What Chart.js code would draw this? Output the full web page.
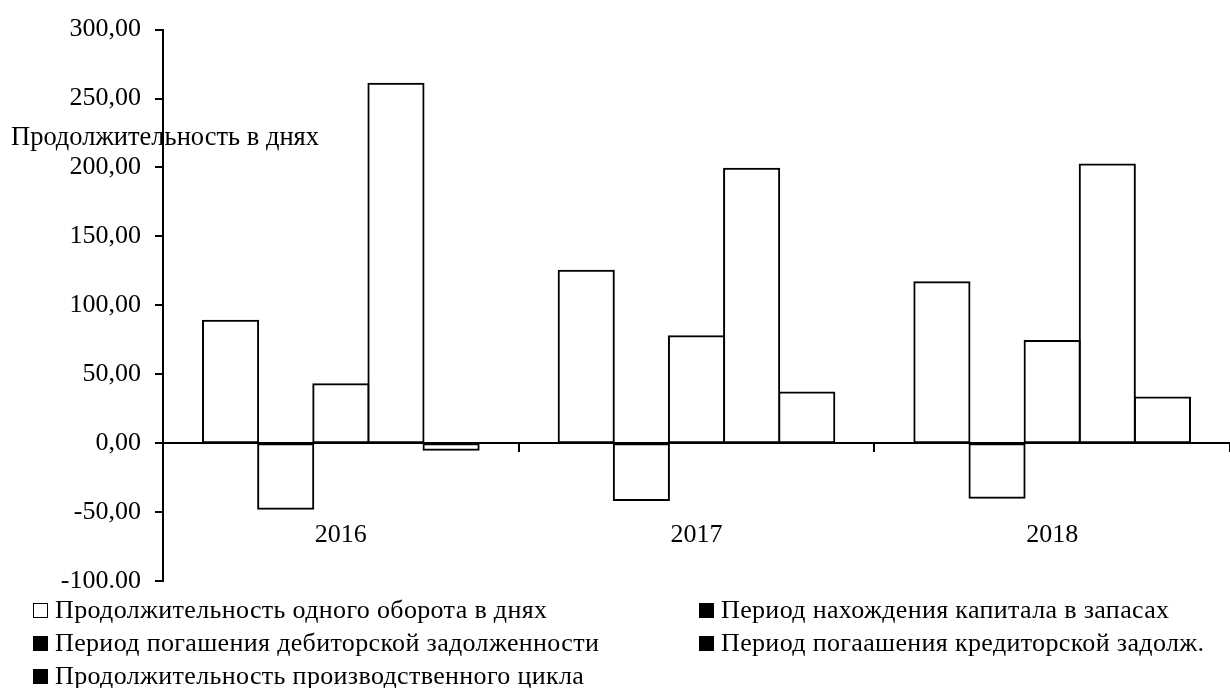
<!DOCTYPE html>
<html>
<head>
<meta charset="utf-8">
<script src="https://cdn.jsdelivr.net/npm/chart.js@4"></script>
<style>
  html, body { margin: 0; padding: 0; background: #fff; }
  #wrap { position: relative; width: 1230px; height: 688px; font-family: "Liberation Serif", "Times New Roman", serif; color: #000; }
  canvas { position: absolute; left: 0; top: 0; }
  .ytitle { position: absolute; left: 11px; top: 121px; font-size: 26.5px; white-space: nowrap; line-height: 1.15; }
  .leg { position: absolute; font-size: 26px; letter-spacing: 0.35px; white-space: nowrap; line-height: 1; }
  .leg i { position: absolute; left: -22px; top: 6px; width: 15px; height: 15px; box-sizing: border-box; border: 1.5px solid #000; }
</style>
</head>
<body>
<div id="wrap">
  <canvas id="c" width="1230" height="688"></canvas>
  <div class="ytitle">Продолжительность в днях</div>
  <div id="legend"></div>
</div>
<script>
// Years on the category axis
const years = ['2016', '2017', '2018'];

// Series names (legend order)
const seriesNames = [
  'Продолжительность одного оборота в днях',
  'Период нахождения капитала в запасах',
  'Период погашения дебиторской задолженности',
  'Период погаашения кредиторской задолж.',
  'Продолжительность производственного цикла'
];

// Values per series, one per year (days)
const turnoverDays   = [88.8, 125.0, 116.8];
const inventoryDays  = [-47.5, -41.2, -39.6];
const receivableDays = [42.7, 77.5, 74.1];
const payableDays    = [260.7, 199.1, 202.2];
const productionDays = [-4.8, 36.7, 33.1];

// Value axis tick labels, bottom to top
const yTickLabels = ['-100.00', '-50,00', '0,00', '50,00', '100,00', '150,00', '200,00', '250,00', '300,00'];

// Legend swatch fill per series
const legendFills = ['#fff', '#000', '#000', '#000', '#000'];

const seriesValues = [turnoverDays, inventoryDays, receivableDays, payableDays, productionDays];

const datasets = seriesNames.map((name, i) => ({
  label: name,
  data: seriesValues[i],
  backgroundColor: '#fff',
  borderColor: '#000',
  borderWidth: 2,
  borderSkipped: false,
  inflateAmount: 1,
  barPercentage: 1,
  categoryPercentage: 0.775
}));

// Legend: two columns, filled row by row
const legendEl = document.getElementById('legend');
const legendPos = [
  { x: 55, y: 597 },
  { x: 721, y: 597 },
  { x: 55, y: 630 },
  { x: 721, y: 630 },
  { x: 55, y: 663 }
];
seriesNames.forEach((name, i) => {
  const d = document.createElement('div');
  d.className = 'leg';
  d.style.left = legendPos[i].x + 'px';
  d.style.top = legendPos[i].y + 'px';
  const sw = document.createElement('i');
  sw.style.background = legendFills[i];
  d.appendChild(sw);
  d.appendChild(document.createTextNode(name));
  legendEl.appendChild(d);
});

const font = { family: '"Liberation Serif", "Times New Roman", serif', size: 26 };

new Chart(document.getElementById('c'), {
  type: 'bar',
  data: { labels: years, datasets },
  options: {
    responsive: false,
    animation: false,
    events: [],
    layout: { padding: { top: 23, bottom: 107, left: 0, right: 0 } },
    plugins: { legend: { display: false }, tooltip: { enabled: false } },
    scales: {
      x: {
        position: { y: 0 },
        offset: true,
        border: { display: true, color: '#000', width: 2 },
        grid: { drawOnChartArea: false, drawTicks: true, tickLength: 8, color: '#000', lineWidth: 2, offset: true },
        ticks: { color: '#000', font, padding: 68, maxRotation: 0 }
      },
      y: {
        min: -100,
        max: 300,
        afterFit: (s) => { s.width = 163; },
        border: { display: true, color: '#000', width: 2 },
        grid: { drawOnChartArea: false, drawTicks: true, tickLength: 8, color: '#000', lineWidth: 2 },
        ticks: {
          stepSize: 50,
          color: '#000',
          font,
          padding: 14,
          callback: (v) => yTickLabels[Math.round((v + 100) / 50)]
        }
      }
    }
  }
});
</script>
</body>
</html>
